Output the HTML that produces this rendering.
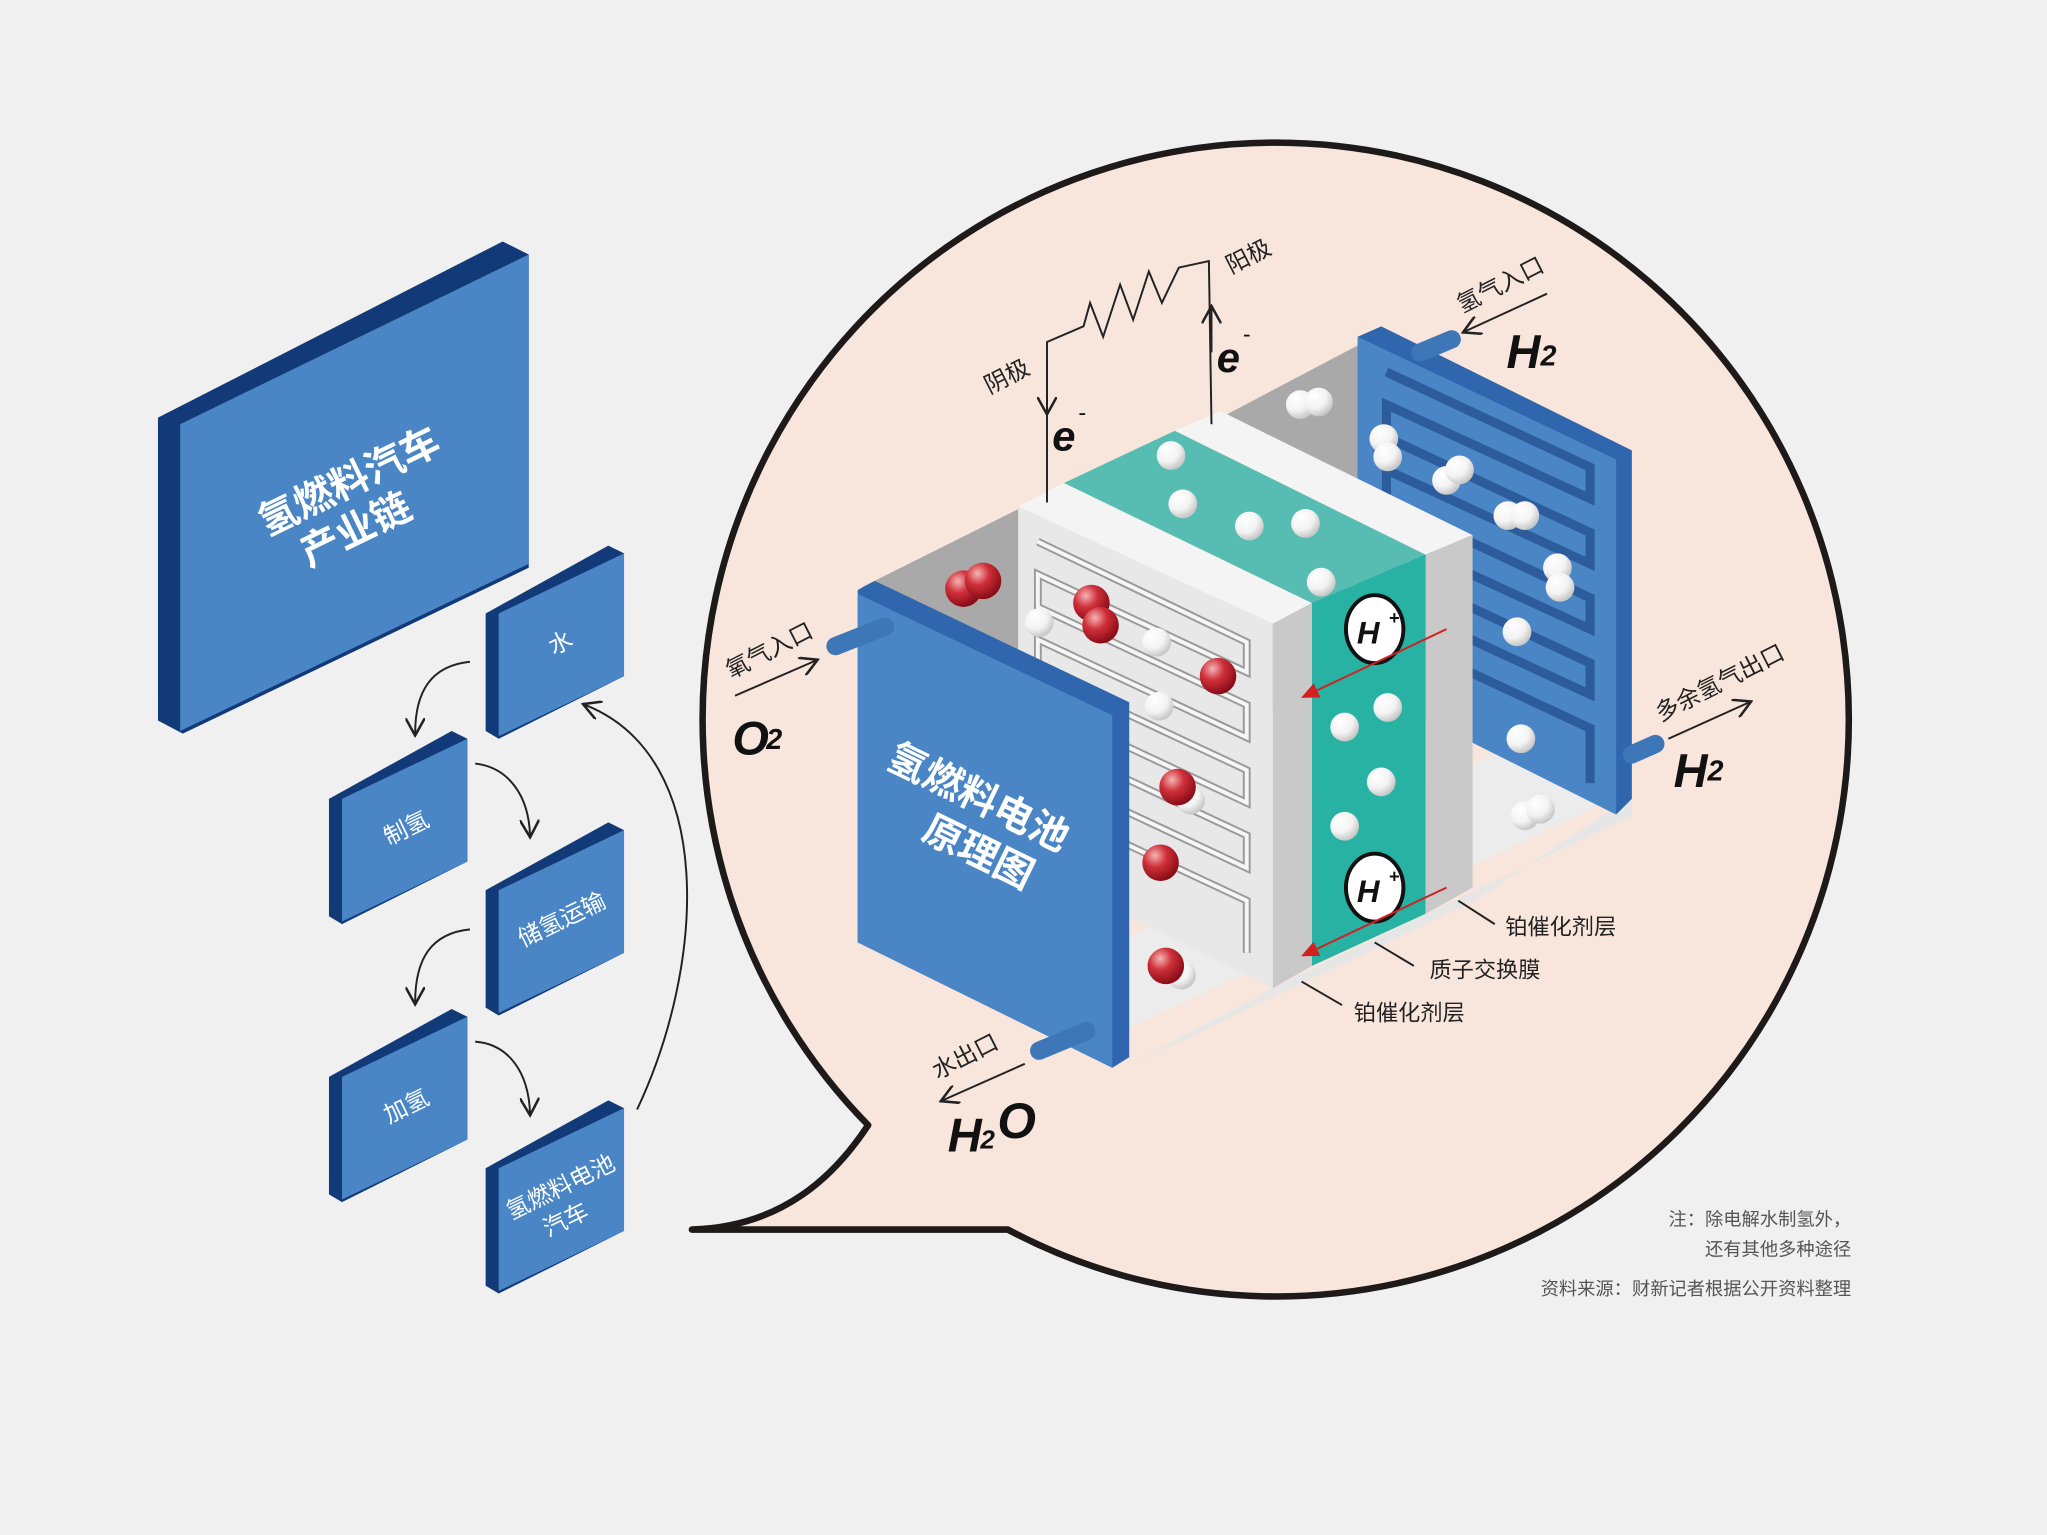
<!DOCTYPE html>
<html><head><meta charset="utf-8">
<style>
html,body{margin:0;padding:0;background:#f0f0f0;}
svg{display:block}
text{font-family:"Liberation Sans","Noto Sans CJK SC",sans-serif;}
</style></head>
<body>
<svg width="2047" height="1535" viewBox="0 0 1568 1176" preserveAspectRatio="none" xmlns="http://www.w3.org/2000/svg">
<defs>
<radialGradient id="rb" cx="0.35" cy="0.3" r="0.7"><stop offset="0" stop-color="#f5b5b5"/><stop offset="0.45" stop-color="#d0303a"/><stop offset="1" stop-color="#8a0d18"/></radialGradient>
<radialGradient id="wb" cx="0.35" cy="0.3" r="0.7"><stop offset="0" stop-color="#ffffff"/><stop offset="0.6" stop-color="#f3f3f3"/><stop offset="1" stop-color="#c8c8c8"/></radialGradient>
<marker id="ah" markerWidth="10" markerHeight="10" refX="8" refY="5" orient="auto"><path d="M0,0 L9,5 L0,10" fill="none" stroke="#222" stroke-width="1.3"/></marker>
<marker id="ahr" markerWidth="10" markerHeight="10" refX="8" refY="5" orient="auto"><path d="M0,1 L9,5 L0,9z" fill="#d02020"/></marker>
</defs>
<rect width="1568" height="1176" fill="#f0f0f0"/>

<path d="M530,942 C600,940 640,900 665,862 A439,442 0 1 1 772,942 Z" fill="#f8e6dc" stroke="#1e1a1a" stroke-width="5" stroke-linejoin="round"/>

<polygon points="121,320 385,185 405,195 405,435 140,562 121,552" fill="#123a78"/>
<polygon points="138,325 405,195 405,432 138,560" fill="#4a86c5"/>
<text transform="translate(272,378) rotate(-26)" font-size="30" fill="#fff" text-anchor="middle" font-weight="bold">氢燃料汽车</text>
<text transform="translate(277,415) rotate(-26)" font-size="30" fill="#fff" text-anchor="middle" font-weight="bold">产业链</text>

<g>
<polygon points="372,470 466,418 478,424 478,518 382,566 372,560" fill="#123a78"/>
<polygon points="382,470 478,424 478,518 382,564" fill="#4a86c5"/>
<text transform="translate(432,498) rotate(-26)" font-size="18" fill="#fff" text-anchor="middle">水</text>
<polygon points="252,612 346,560 358,566 358,660 262,708 252,702" fill="#123a78"/>
<polygon points="262,612 358,566 358,660 262,706" fill="#4a86c5"/>
<text transform="translate(314,640) rotate(-26)" font-size="18" fill="#fff" text-anchor="middle">制氢</text>
<polygon points="372,682 466,630 478,636 478,730 382,778 372,772" fill="#123a78"/>
<polygon points="382,682 478,636 478,730 382,776" fill="#4a86c5"/>
<text transform="translate(433,710) rotate(-26)" font-size="18" fill="#fff" text-anchor="middle">储氢运输</text>
<polygon points="252,825 346,773 358,779 358,873 262,921 252,915" fill="#123a78"/>
<polygon points="262,825 358,779 358,873 262,919" fill="#4a86c5"/>
<text transform="translate(314,853) rotate(-26)" font-size="18" fill="#fff" text-anchor="middle">加氢</text>
<polygon points="372,895 466,843 478,849 478,943 382,991 372,985" fill="#123a78"/>
<polygon points="382,895 478,849 478,943 382,989" fill="#4a86c5"/>
<text transform="translate(432,915) rotate(-26)" font-size="18" fill="#fff" text-anchor="middle">氢燃料电池</text>
<text transform="translate(436,940) rotate(-26)" font-size="18" fill="#fff" text-anchor="middle">汽车</text>
</g>
<g fill="none" stroke="#222" stroke-width="1.5">
<path d="M360,507 C330,510 318,530 318,562" marker-end="url(#ah)"/>
<path d="M364,585 C390,588 405,610 406,640" marker-end="url(#ah)"/>
<path d="M360,712 C330,715 318,735 318,768" marker-end="url(#ah)"/>
<path d="M364,798 C390,800 405,822 406,853" marker-end="url(#ah)"/>
<path d="M488,850 C540,740 550,580 448,540" marker-end="url(#ah)"/>
</g>

<polygon points="862,818 1130,690 1250,610 1250,625 1020,735 975,757" fill="#e6e6e6"/>
<polygon points="860,790 1240,610 1160,570 860,720" fill="#ececec"/>
<polygon points="660,450 780,390 780,650 660,700" fill="#a9a9a9"/>
<polygon points="935,320 1045,262 1045,515 935,560" fill="#a9a9a9"/>
<polygon points="1040,258 1058,250 1250,345 1250,612 1238,624 1040,525" fill="#2f66ad"/>
<polygon points="1040,258 1238,352 1238,624 1040,525" fill="#4a86c5"/>
<g fill="none" stroke="#2c5c9c" stroke-width="7">
<path d="M1062,285 L1218,358 L1218,382 L1062,310 L1062,335 L1218,408 L1218,432 L1062,360 L1062,385 L1218,458 L1218,482 L1062,410 L1062,435 L1218,508 L1218,532 L1062,460 L1062,485 L1218,558 L1218,600"/>
</g>
<path d="M1088,270 L1112,260" stroke="#3e77b8" stroke-width="14" stroke-linecap="round"/>
<path d="M1250,578 L1268,570" stroke="#3e77b8" stroke-width="14" stroke-linecap="round"/>

<polygon points="780,388 815,370 1005,462 975,478" fill="#f4f4f4"/>
<polygon points="815,370 900,330 1092,425 1005,462" fill="#57bdb3"/>
<polygon points="900,330 935,315 1128,410 1092,425" fill="#f4f4f4"/>
<polygon points="780,388 975,478 975,757 780,660" fill="#e8e8e8"/>
<g fill="none" stroke="#9a9a9a" stroke-width="6">
<path d="M795,415 L955,492 L955,515 L795,440 L795,465 L955,540 L955,565 L795,490 L795,515 L955,590 L955,615 L795,540 L795,565 L955,640 L955,665 L795,590 L795,615 L955,690 L955,730"/>
</g>
<g fill="none" stroke="#f6f6f6" stroke-width="3">
<path d="M795,415 L955,492 L955,515 L795,440 L795,465 L955,540 L955,565 L795,490 L795,515 L955,590 L955,615 L795,540 L795,565 L955,640 L955,665 L795,590 L795,615 L955,690 L955,730"/>
</g>
<polygon points="975,478 1005,462 1005,740 975,757" fill="#c9c9c9"/>
<polygon points="1005,462 1092,425 1092,700 1005,740" fill="#27b2a4"/>
<polygon points="1092,425 1128,410 1128,680 1092,700" fill="#c9c9c9"/>

<polygon points="657,452 670,445 865,538 865,810 852,818 657,722" fill="#2f66ad"/>
<polygon points="657,455 852,548 852,818 657,722" fill="#4a86c5"/>
<text transform="translate(745,620) rotate(26)" font-size="30" fill="#fff" text-anchor="middle" font-weight="bold">氢燃料电池</text>
<text transform="translate(745,662) rotate(26)" font-size="30" fill="#fff" text-anchor="middle" font-weight="bold">原理图</text>
<path d="M640,495 L678,480" stroke="#3e77b8" stroke-width="14" stroke-linecap="round"/>
<path d="M796,805 L832,790" stroke="#3e77b8" stroke-width="14" stroke-linecap="round"/>

<g fill="url(#wb)">
<circle cx="996" cy="310" r="11"/><circle cx="1010" cy="308" r="11"/>
<circle cx="1060" cy="336" r="11"/><circle cx="1063" cy="350" r="11"/>
<circle cx="1108" cy="368" r="11"/><circle cx="1118" cy="360" r="11"/>
<circle cx="1155" cy="395" r="11"/><circle cx="1168" cy="395" r="11"/>
<circle cx="1193" cy="435" r="11"/><circle cx="1195" cy="450" r="11"/>
<circle cx="1162" cy="484" r="11"/><circle cx="1165" cy="566" r="11"/>
<circle cx="1168" cy="625" r="11"/><circle cx="1180" cy="620" r="11"/>
<circle cx="897" cy="349" r="11"/><circle cx="906" cy="386" r="11"/><circle cx="957" cy="403" r="11"/>
<circle cx="1000" cy="401" r="11"/><circle cx="1012" cy="446" r="11"/>
<circle cx="1030" cy="557" r="11"/><circle cx="1063" cy="542" r="11"/><circle cx="1058" cy="599" r="11"/>
<circle cx="1030" cy="633" r="11"/>
<circle cx="796" cy="477" r="11"/><circle cx="886" cy="492" r="11"/><circle cx="888" cy="541" r="11"/>
<circle cx="912" cy="613" r="11"/><circle cx="905" cy="747" r="11"/>
</g>
<g fill="url(#rb)">
<circle cx="738" cy="451" r="14"/><circle cx="753" cy="445" r="14"/>
<circle cx="836" cy="462" r="14"/><circle cx="843" cy="479" r="14"/>
<circle cx="933" cy="518" r="14"/><circle cx="902" cy="603" r="14"/>
<circle cx="889" cy="661" r="14"/><circle cx="893" cy="740" r="14"/>
</g>
<g>
<ellipse cx="1053" cy="482" rx="22" ry="26" fill="#fff" stroke="#111" stroke-width="3"/>
<text x="1048" y="493" font-size="24" font-weight="bold" font-style="italic" text-anchor="middle" fill="#111">H</text>
<text x="1064" y="478" font-size="14" font-weight="bold" fill="#111">+</text>
<ellipse cx="1053" cy="680" rx="22" ry="26" fill="#fff" stroke="#111" stroke-width="3"/>
<text x="1048" y="691" font-size="24" font-weight="bold" font-style="italic" text-anchor="middle" fill="#111">H</text>
<text x="1064" y="676" font-size="14" font-weight="bold" fill="#111">+</text>
</g>
<line x1="1108" y1="482" x2="998" y2="534" stroke="#d02020" stroke-width="1.5" marker-end="url(#ahr)"/>
<line x1="1108" y1="680" x2="998" y2="732" stroke="#d02020" stroke-width="1.5" marker-end="url(#ahr)"/>

<path d="M802,385 L802,262 L830,250 L835,232 L845,258 L858,218 L868,245 L880,208 L890,232 L903,205 L926,200 L928,325" fill="none" stroke="#222" stroke-width="1.5"/>
<line x1="802" y1="280" x2="802" y2="316" stroke="#222" stroke-width="1.5" marker-end="url(#ah)"/>
<line x1="928" y1="270" x2="928" y2="236" stroke="#222" stroke-width="1.5" marker-end="url(#ah)"/>
<text x="806" y="345" font-size="32" font-weight="bold" font-style="italic" fill="#111">e</text>
<text x="826" y="322" font-size="18" fill="#111">-</text>
<text x="932" y="285" font-size="32" font-weight="bold" font-style="italic" fill="#111">e</text>
<text x="952" y="262" font-size="18" fill="#111">-</text>
<text transform="translate(758,302) rotate(-27)" font-size="18" fill="#222">阴极</text>
<text transform="translate(943,210) rotate(-27)" font-size="18" fill="#222">阳极</text>

<text transform="translate(560,520) rotate(-27)" font-size="18" fill="#222">氧气入口</text>
<line x1="563" y1="533" x2="625" y2="506" stroke="#222" stroke-width="1.5" marker-end="url(#ah)"/>
<text x="561" y="578" font-size="36" font-weight="bold" font-style="italic" fill="#111">O</text>
<text x="587" y="574" font-size="22" font-weight="bold" font-style="italic" fill="#111">2</text>

<text transform="translate(1120,240) rotate(-27)" font-size="18" fill="#222">氢气入口</text>
<line x1="1185" y1="225" x2="1122" y2="254" stroke="#222" stroke-width="1.5" marker-end="url(#ah)"/>
<text x="1154" y="282" font-size="36" font-weight="bold" font-style="italic" fill="#111">H</text>
<text x="1180" y="280" font-size="22" font-weight="bold" font-style="italic" fill="#111">2</text>

<text transform="translate(1272,553) rotate(-27)" font-size="18" fill="#222">多余氢气出口</text>
<line x1="1278" y1="566" x2="1340" y2="538" stroke="#222" stroke-width="1.5" marker-end="url(#ah)"/>
<text x="1282" y="603" font-size="36" font-weight="bold" font-style="italic" fill="#111">H</text>
<text x="1308" y="598" font-size="22" font-weight="bold" font-style="italic" fill="#111">2</text>

<text transform="translate(718,827) rotate(-27)" font-size="18" fill="#222">水出口</text>
<line x1="785" y1="815" x2="722" y2="843" stroke="#222" stroke-width="1.5" marker-end="url(#ah)"/>
<text x="726" y="882" font-size="36" font-weight="bold" font-style="italic" fill="#111">H</text>
<text x="751" y="880" font-size="20" font-weight="bold" font-style="italic" fill="#111">2</text>
<text x="764" y="872" font-size="38" font-weight="bold" font-style="italic" fill="#111">O</text>

<g stroke="#222" stroke-width="1.5">
<line x1="1117" y1="690" x2="1145" y2="708"/>
<line x1="1053" y1="722" x2="1083" y2="740"/>
<line x1="997" y1="752" x2="1028" y2="770"/>
</g>
<text x="1153" y="716" font-size="17" fill="#222">铂催化剂层</text>
<text x="1095" y="749" font-size="17" fill="#222">质子交换膜</text>
<text x="1037" y="782" font-size="17" fill="#222">铂催化剂层</text>

<text x="1418" y="939" font-size="14" fill="#555" text-anchor="end">注：除电解水制氢外，</text>
<text x="1418" y="962" font-size="14" fill="#555" text-anchor="end">还有其他多种途径</text>
<text x="1418" y="992" font-size="14" fill="#555" text-anchor="end">资料来源：财新记者根据公开资料整理</text>
</svg>
</body></html>
